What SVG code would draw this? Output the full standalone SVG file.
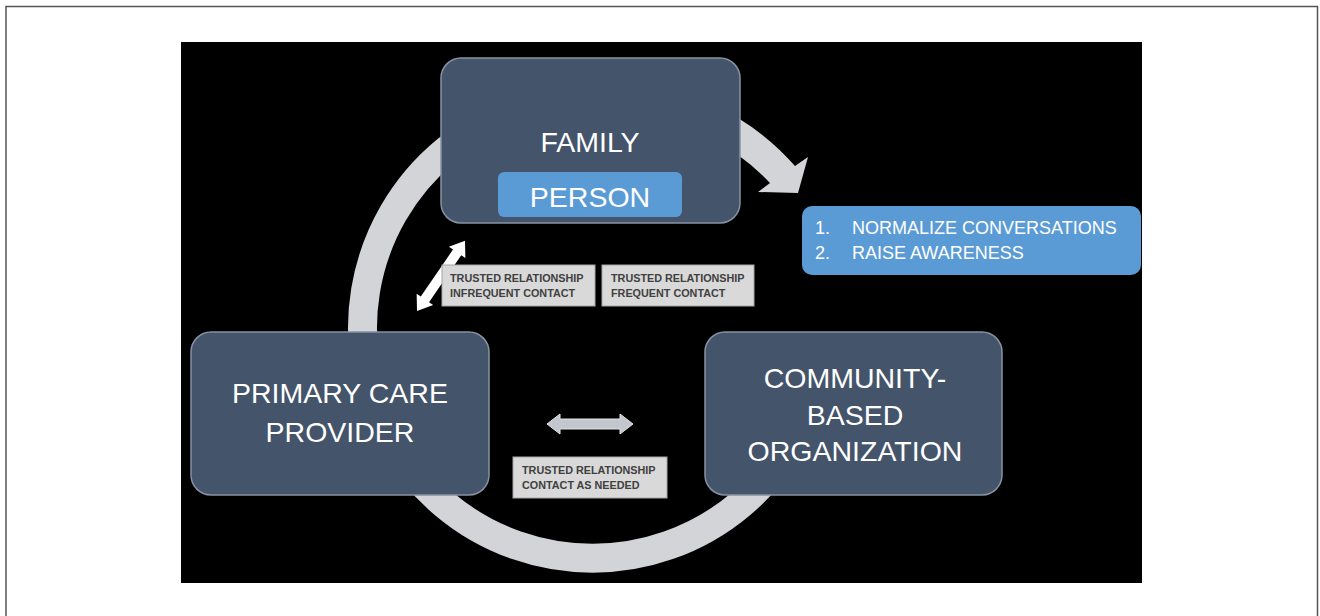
<svg xmlns="http://www.w3.org/2000/svg" width="1320" height="616" viewBox="0 0 1320 616">
<style>
.node{fill:#44546a;stroke:#8692a3;stroke-width:1.5}
.big{font-family:"Liberation Sans",Arial,sans-serif;font-size:28.5px;fill:#ffffff;text-anchor:middle}
.blue{fill:#5b9bd5}
.lab{fill:#d9d9d9;stroke:#a6a6a6;stroke-width:1}
.small{font-family:"Liberation Sans",Arial,sans-serif;font-size:10.8px;font-weight:bold;fill:#404040}
.list{font-family:"Liberation Sans",Arial,sans-serif;font-size:18px;fill:#ffffff}
.ring{fill:none;stroke:#d3d4d7;stroke-width:29}
</style>
<rect x="0" y="0" width="1320" height="616" fill="#ffffff"/>
<path d="M6,616 V6.5 H1317.5 V616" fill="none" stroke="#555555" stroke-width="1.5"/>
<rect x="181" y="42" width="961" height="541" fill="#000000"/>
<g id="connectors">
  <path class="ring" d="M819,368 A230,230 0 1 1 514,112"/>
  <path d="M738,118 A245,245 0 0 1 795,166 L808,157 L798,193 L758,192 L770,183 A216,216 0 0 0 738,155 Z" fill="#d3d4d7"/>
  <polygon transform="translate(417,311) rotate(-55.6)" points="0,0 14,-10 14,-5 71,-5 71,-10 85,0 71,10 71,5 14,5 14,10" fill="#ffffff"/>
  <polygon transform="translate(547,424)" points="0,0 13,-10 13,-5 73,-5 73,-10 86,0 73,10 73,5 13,5 13,10" fill="#c3c6cc" stroke="#e0e2e6" stroke-width="1"/>
</g>
<g id="family">
  <rect class="node" x="441" y="58" width="299" height="165" rx="20"/>
  <text class="big" x="590" y="152">FAMILY</text>
  <rect class="blue" x="498" y="172" width="184" height="45" rx="6"/>
  <text class="big" x="590" y="207">PERSON</text>
</g>
<g id="goals">
  <rect class="blue" x="802" y="206" width="339" height="69" rx="10"/>
  <text class="list" x="815" y="234">1.</text>
  <text class="list" x="852" y="234">NORMALIZE CONVERSATIONS</text>
  <text class="list" x="815" y="259">2.</text>
  <text class="list" x="852" y="259">RAISE AWARENESS</text>
</g>
<g id="label-infrequent">
  <rect class="lab" x="442" y="265" width="153" height="41"/>
  <text class="small" x="450" y="282">TRUSTED RELATIONSHIP</text>
  <text class="small" x="450" y="297">INFREQUENT CONTACT</text>
</g>
<g id="label-frequent">
  <rect class="lab" x="602" y="265" width="152" height="41"/>
  <text class="small" x="611" y="282">TRUSTED RELATIONSHIP</text>
  <text class="small" x="611" y="297">FREQUENT CONTACT</text>
</g>
<g id="pcp">
  <rect class="node" x="191" y="332" width="298" height="163" rx="20"/>
  <text class="big" x="340" y="403">PRIMARY CARE</text>
  <text class="big" x="340" y="442">PROVIDER</text>
</g>
<g id="cbo">
  <rect class="node" x="705" y="332" width="297" height="163" rx="20"/>
  <text class="big" x="855" y="388">COMMUNITY-</text>
  <text class="big" x="855" y="425">BASED</text>
  <text class="big" x="855" y="461">ORGANIZATION</text>
</g>
<g id="label-asneeded">
  <rect class="lab" x="513" y="457" width="154" height="41"/>
  <text class="small" x="522" y="474">TRUSTED RELATIONSHIP</text>
  <text class="small" x="522" y="489">CONTACT AS NEEDED</text>
</g>
</svg>
